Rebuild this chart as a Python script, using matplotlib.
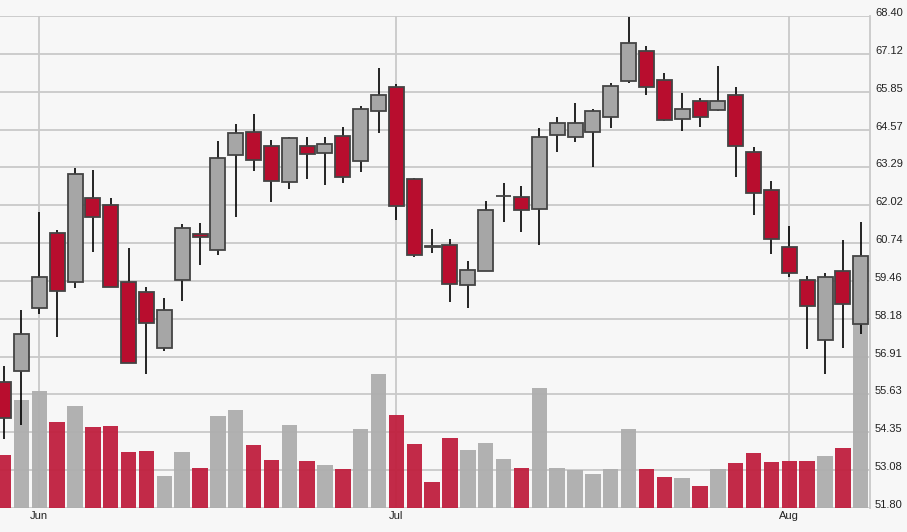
import matplotlib
matplotlib.use("Agg")
import matplotlib.pyplot as plt
import numpy as np

# ---- data ----
opens = [56.06, 56.42, 58.54, 61.09, 59.43, 62.26, 62.02, 59.43, 59.08, 57.21,
         59.49, 61.03, 60.49, 63.71, 64.50, 64.01, 62.81, 64.01, 63.77, 64.34,
         63.51, 65.20, 66.00, 62.89, 60.65, 60.68, 59.32, 59.80, 62.32, 62.30,
         61.88, 64.37, 64.31, 64.50, 64.99, 66.22, 67.23, 66.23, 64.92, 65.53,
         65.23, 65.73, 63.81, 62.52, 60.60, 59.50, 57.47, 59.80, 58.01]
highs = [56.59, 58.48, 61.79, 61.18, 63.28, 63.20, 62.25, 60.58, 59.26, 58.90,
         61.38, 61.42, 64.17, 64.77, 65.09, 64.23, 64.33, 64.31, 64.31, 64.66,
         65.36, 66.66, 66.12, 62.92, 61.21, 60.89, 60.12, 62.15, 62.78, 62.67,
         64.63, 65.00, 65.46, 65.27, 66.15, 68.36, 67.38, 66.49, 65.79, 65.64,
         66.72, 65.99, 63.97, 62.84, 61.31, 59.63, 59.72, 60.83, 61.46]
lows = [54.13, 54.60, 58.35, 57.58, 59.23, 60.43, 59.25, 56.68, 56.32, 57.09,
        58.77, 60.00, 60.34, 61.63, 63.18, 62.12, 62.55, 62.89, 62.69, 62.78,
        63.15, 64.44, 61.52, 60.27, 60.40, 58.74, 58.55, 59.78, 61.46, 61.12,
        60.66, 63.81, 64.15, 63.32, 64.61, 66.15, 65.73, 64.86, 64.51, 64.64,
        65.21, 62.96, 61.70, 60.37, 59.60, 57.15, 56.32, 57.19, 57.68]
closes = [54.83, 57.66, 59.58, 59.13, 63.06, 61.62, 59.27, 56.70, 58.03, 58.48,
          61.26, 60.95, 63.61, 64.44, 63.54, 62.84, 64.28, 63.73, 64.08, 62.98,
          65.27, 65.73, 61.98, 60.33, 60.60, 59.36, 59.83, 61.85, 62.34, 61.85,
          64.31, 64.80, 64.80, 65.20, 66.04, 67.49, 65.99, 64.89, 65.27, 64.99,
          65.54, 64.01, 62.44, 60.87, 59.73, 58.61, 59.58, 58.69, 60.30]
volumes = [5.3, 10.8, 11.7, 8.6, 10.2, 8.1, 8.2, 5.6, 5.7, 3.2,
           5.6, 4.0, 9.2, 9.8, 6.3, 4.8, 8.3, 4.7, 4.3, 3.9,
           7.9, 13.4, 9.3, 6.4, 2.6, 7.0, 5.8, 6.5, 4.9, 4.0,
           12.0, 4.0, 3.8, 3.4, 3.9, 7.9, 3.9, 3.1, 3.0, 2.2,
           3.9, 4.5, 5.5, 4.6, 4.7, 4.7, 5.2, 6.0, 20.5]
month_labels = ["Jun", "Jul", "Aug"]
month_index = [2, 22, 44]
price_ticks = list(np.linspace(51.80, 68.40, 14))

# ---- style ----
BG = "#f7f7f7"
GRID = "#c9c9c9"
UP_FILL = "#a6a6a6"
DOWN_FILL = "#b80d2e"
EDGE = "#444444"
VOL_UP = "#aeaeae"
VOL_DOWN = "#c01f3e"

plt.rcParams["font.family"] = ["Liberation Sans", "DejaVu Sans"]

W, H = 907, 532
fig = plt.figure(figsize=(W / 100, H / 100), dpi=100, facecolor=BG)
rect = [0, 24 / H, 870 / W, (508 - 16) / H]

n = len(opens)
x = np.arange(n)
xlim = (-0.2, 48.52)
ylim = (51.80, 68.40)

# background + grid
ax_bg = fig.add_axes(rect, zorder=0)
ax_bg.set_facecolor(BG)
ax_bg.set_xlim(*xlim)
ax_bg.set_ylim(*ylim)
ax_bg.set_xticks(month_index)
ax_bg.set_yticks(price_ticks)
ax_bg.grid(True, color=GRID, linewidth=1.3)
ax_bg.tick_params(left=False, bottom=False, labelleft=False, labelbottom=False)
for s in ax_bg.spines.values():
    s.set_visible(False)

# volume
up = [c >= o for o, c in zip(opens, closes)]
ax_vol = fig.add_axes(rect, zorder=1)
ax_vol.patch.set_visible(False)
ax_vol.set_xlim(*xlim)
ax_vol.set_ylim(0, 49.2)
ax_vol.bar(x, volumes, width=0.86,
           color=[VOL_UP if u else VOL_DOWN for u in up], alpha=0.95,
           edgecolor="none")
ax_vol.axis("off")

# candles
ax = fig.add_axes(rect, zorder=2)
ax.patch.set_visible(False)
ax.set_xlim(*xlim)
ax.set_ylim(*ylim)
ax.vlines(x, lows, highs, color="black", linewidth=1.2, zorder=1)
bottoms = [min(o, c) for o, c in zip(opens, closes)]
heights = [max(abs(c - o), 0.01) for o, c in zip(opens, closes)]
ax.bar(x, heights, bottom=bottoms, width=0.84,
       color=[UP_FILL if u else DOWN_FILL for u in up],
       edgecolor=EDGE, linewidth=1.3, zorder=2)

ax.yaxis.tick_right()
ax.set_yticks(price_ticks)
ax.set_yticklabels([f"{v:.2f}" for v in price_ticks])
ax.set_xticks(month_index)
ax.set_xticklabels(month_labels)
ax.tick_params(axis="y", length=0, pad=3.6, labelsize=8, labelcolor="#222222")
ax.tick_params(axis="x", length=0, pad=2.5, labelsize=8, labelcolor="#222222")
for lab in ax.get_yticklabels():
    lab.set_verticalalignment("baseline")
for k, s in ax.spines.items():
    s.set_visible(False)
ax.spines["right"].set_visible(True)
ax.spines["right"].set_color(GRID)
ax.spines["right"].set_linewidth(1.3)

fig.savefig("out.png", dpi=100, facecolor=BG)
